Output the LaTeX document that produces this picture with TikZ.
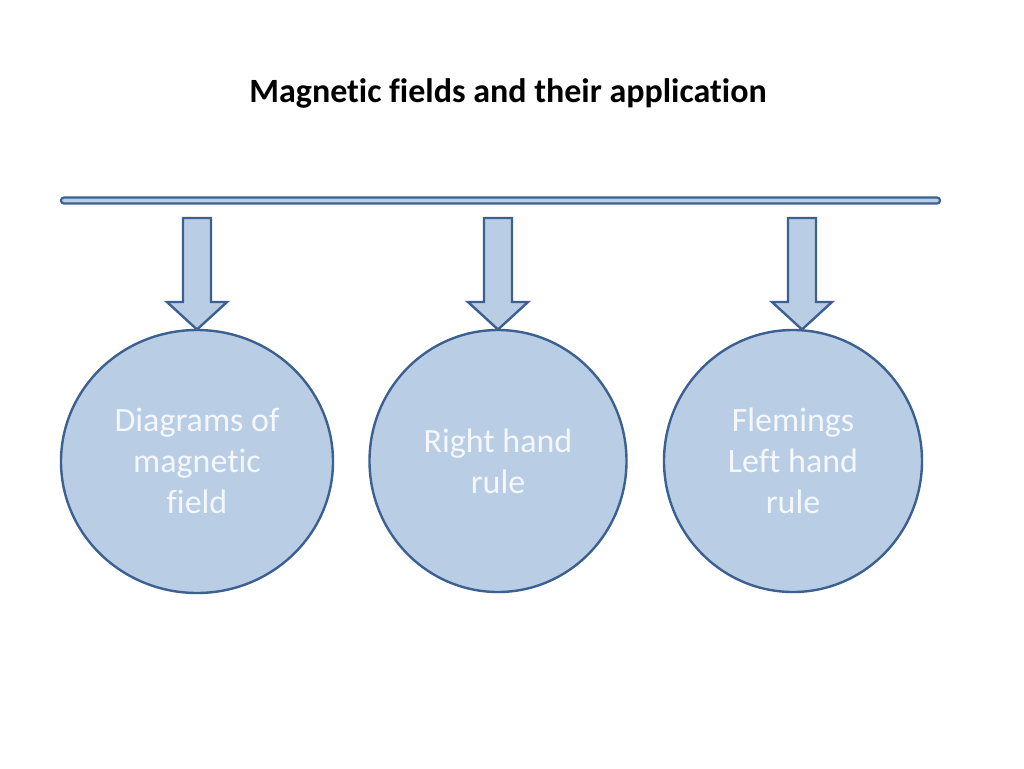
\documentclass[tikz,border=0pt]{standalone}
\usepackage{fontspec}
\setmainfont{Carlito}[Ligatures={NoCommon,NoDiscretionary,NoRare,NoContextual}]
\usetikzlibrary{shapes.geometric}
\definecolor{fillb}{HTML}{B9CDE5}
\definecolor{edgeb}{HTML}{3C6190}
\definecolor{txtw}{HTML}{F4F7FB}
\tikzset{
  bubble/.style={ellipse, draw=edgeb, fill=fillb, line width=1.8pt, inner sep=0pt},
  bubbletext/.style={text=txtw, font=\fontsize{25.5}{30.75}\selectfont, align=center},
  downarrow/.style={draw=edgeb, fill=fillb, line width=1.8pt, line join=miter},
}
\begin{document}
\begin{tikzpicture}[x=0.75pt,y=-0.75pt]
\useasboundingbox (0,0) rectangle (1024,768);
\node[font=\bfseries\fontsize{25.5}{30}\selectfont] (title) at (508,93) {Magnetic fields and their application};
\draw[draw=edgeb, fill=fillb, line width=1.6pt, rounded corners=2.2pt] (61,197.5) rectangle (940,203.5);
\coordinate (bar) at (500,203);
\foreach \n/\cx/\cy/\rx/\ry in {a/197/461.5/136/131.5, b/498/461/128.5/131, c/793/461/129/131}{
  \node[bubble, minimum width=2*\rx*0.75pt, minimum height=2*\ry*0.75pt] (\n) at (\cx,\cy) {};
}
\foreach \n/\cx in {a/197, b/498, c/802}{
  \draw[downarrow] (\cx-14,218) -- (\cx+14,218) -- (\cx+14,302) -- (\cx+30,302) -- (\cx,329.5) -- (\cx-30,302) -- (\cx-14,302) -- cycle;
}
\node[bubbletext] (ta) at (197,461) {Diagrams of\\magnetic\\field};
\node[bubbletext] (tb) at (498,461) {Right hand\\rule};
\node[bubbletext] (tc) at (793,461) {Flemings\\Left hand\\rule};
\end{tikzpicture}
\end{document}
